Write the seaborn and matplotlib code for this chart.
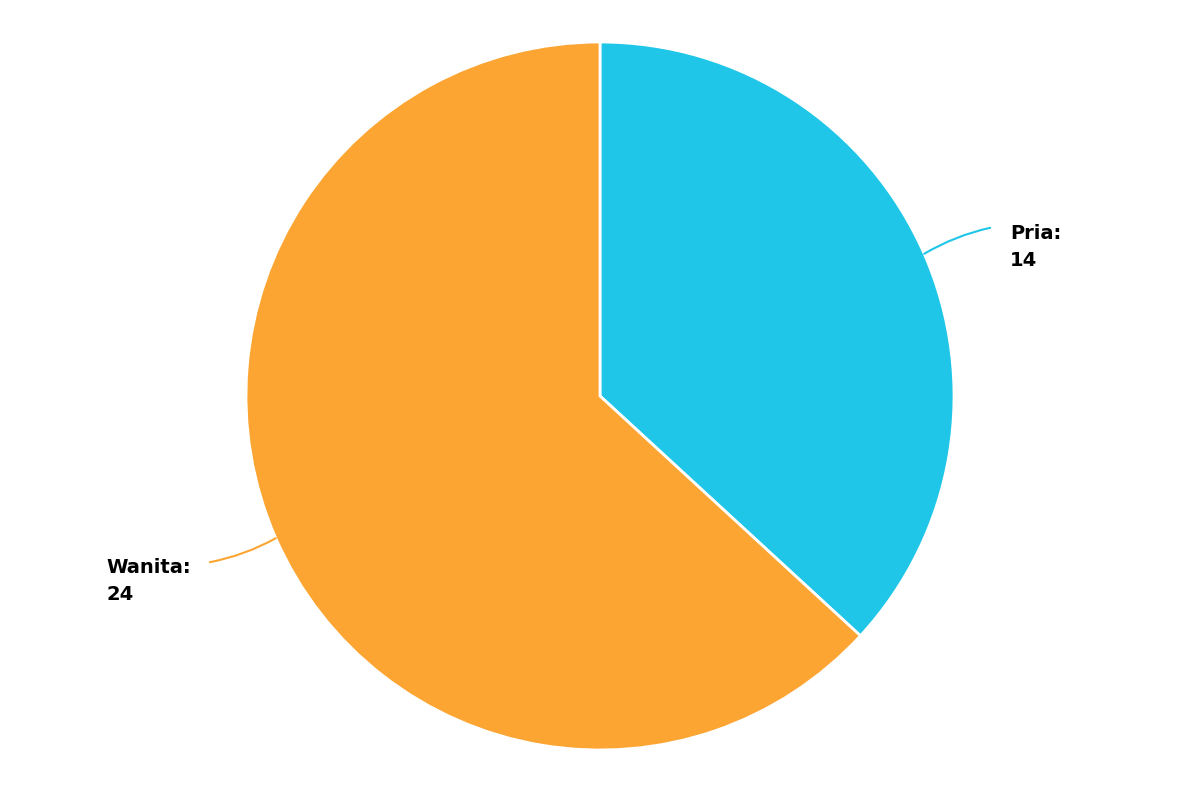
import numpy as np
import matplotlib
matplotlib.use("Agg")
import matplotlib.pyplot as plt
import seaborn as sns

# data
labels = ["Pria", "Wanita"]
values = [14, 24]
colors = ["#1FC6E8", "#FCA532"]

sns.set_style("white")
plt.rcParams["font.family"] = ["DejaVu Sans"]

fig = plt.figure(figsize=(12, 8), dpi=100)
ax = fig.add_axes([0, 0, 1, 1])

R = 354
wedges, _ = ax.pie(values, colors=colors, startangle=90, counterclock=False,
                   radius=R, center=(0, 0),
                   wedgeprops=dict(edgecolor="white", linewidth=2))
ax.set_xlim(-600, 600)
ax.set_ylim(-404, 396)
ax.set_aspect("equal")
ax.axis("off")

# label layout: (line end offset, text position, curve)
layout = {
    "Pria": ((66, 26), (410, 149), -0.08),
    "Wanita": ((-66, -24), (-494, -185), -0.08),
}

for w, lab, val, col in zip(wedges, labels, values, colors):
    mid = np.deg2rad((w.theta1 + w.theta2) / 2)
    ex, ey = R * np.cos(mid), R * np.sin(mid)
    (dx, dy), (tx, ty), rad = layout[lab]
    ax.annotate("", xy=(ex + dx, ey + dy), xytext=(ex, ey),
                arrowprops=dict(arrowstyle="-", color=col, lw=1.5,
                                connectionstyle=f"arc3,rad={rad}",
                                shrinkA=0, shrinkB=0))
    ax.text(tx, ty, f"{lab}:\n{val}", ha="left", va="center", fontsize=14,
            fontweight="bold", color="black", linespacing=1.5)

fig.savefig("out.png", dpi=100)
